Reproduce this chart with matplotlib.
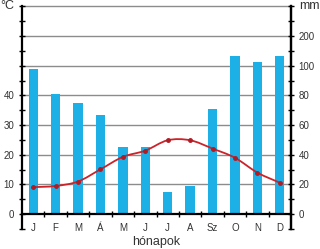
import matplotlib.pyplot as plt
import numpy as np
from matplotlib.path import Path
from matplotlib.patches import PathPatch
from matplotlib.ticker import MultipleLocator, FixedLocator

plt.rcParams['font.family'] = ['Liberation Sans', 'DejaVu Sans']

months = ['J', 'F', 'M', 'Á', 'M', 'J', 'J', 'A', 'Sz', 'O', 'N', 'D']
temp_c = [9.1, 9.5, 11.0, 15.1, 19.3, 21.4, 24.9, 24.9, 22.1, 19.0, 14.0, 10.6]
precip_mm = [98, 81, 75, 67, 45, 45, 15, 19, 71, 134, 113, 134]
left_labels = ['0', '10', '20', '30', '40', '', '', '']
right_labels = ['0', '20', '40', '60', '80', '100', '200']


def mm_to_axis(p):
    # climate-diagram scale: 20 mm = 10 °C up to 100 mm, then 100 mm = 10 °C
    return p / 2 if p <= 100 else 50 + (p - 100) / 10


blue = '#1cb0e6'
red = '#cc2229'
grey = '#8c8c8c'
txt = '#333333'

fig = plt.figure(figsize=(3.2, 2.49), dpi=100)
ax = fig.add_axes([22 / 320, 20 / 249, 269 / 320, 222.6 / 249])
x = np.arange(len(months))

ax.set_xlim(-0.5, 11.5)
ax.set_ylim(-5, 70)

for v in range(10, 71, 10):
    ax.axhline(v, color=grey, lw=1, zorder=1, clip_on=False)

ax.bar(x, [mm_to_axis(p) for p in precip_mm], 0.42, color=blue, zorder=2)

# smooth temperature curve (Catmull-Rom -> Bezier)
pts = np.column_stack([x, temp_c]).astype(float)
verts = [pts[0]]
codes = [Path.MOVETO]
for i in range(len(pts) - 1):
    p0 = pts[i - 1] if i > 0 else pts[i]
    p1, p2 = pts[i], pts[i + 1]
    p3 = pts[i + 2] if i + 2 < len(pts) else pts[i + 1]
    verts += [p1 + (p2 - p0) / 6, p2 - (p3 - p1) / 6, p2]
    codes += [Path.CURVE4] * 3
ax.add_patch(PathPatch(Path(verts, codes), fill=False, edgecolor=red, lw=1.3, zorder=4))
ax.plot(x, temp_c, 'o', color='#b01c24', ms=2.5, zorder=5)

ax.spines['top'].set_visible(False)
ax.spines['bottom'].set_position(('data', 0))
ax.spines['bottom'].set_linewidth(1.6)
ax.spines['left'].set_linewidth(1.6)
ax.spines['right'].set_linewidth(1.6)
ax.spines['bottom'].set_zorder(6)

ax.set_xticks(x)
ax.set_xticklabels(months, fontsize=7, color=txt)
ax.xaxis.set_minor_locator(FixedLocator(np.arange(0.5, 11, 1)))
ax.tick_params(axis='x', which='major', length=0, pad=6.5)
ax.tick_params(axis='x', which='minor', direction='inout', length=5, width=1)

ax.set_yticks(range(0, 71, 10))
ax.set_yticklabels(left_labels, fontsize=7, color=txt)
ax.yaxis.set_minor_locator(MultipleLocator(5))
ax.tick_params(axis='y', which='both', direction='inout', length=5, width=1, pad=3)

ax2 = ax.twinx()
ax2.set_ylim(ax.get_ylim())
ax2.spines['top'].set_visible(False)
ax2.spines['bottom'].set_visible(False)
ax2.spines['left'].set_visible(False)
ax2.spines['right'].set_linewidth(1.6)
ax2.set_yticks(range(0, 61, 10))
ax2.set_yticklabels(right_labels, fontsize=7, color=txt)
ax2.yaxis.set_minor_locator(MultipleLocator(5))
ax2.tick_params(axis='y', which='both', direction='inout', length=5, width=1, pad=3)

fig.text(0.0, 1 - 6 / 249, '°C', fontsize=9, color=txt, ha='left', va='center')
fig.text(1.0, 1 - 6 / 249, 'mm', fontsize=9, color=txt, ha='right', va='center')
fig.text(156.5 / 320, 1 - 241.7 / 249, 'hónapok', fontsize=9, color=txt, ha='center', va='center')

plt.savefig('out.png', dpi=100)
